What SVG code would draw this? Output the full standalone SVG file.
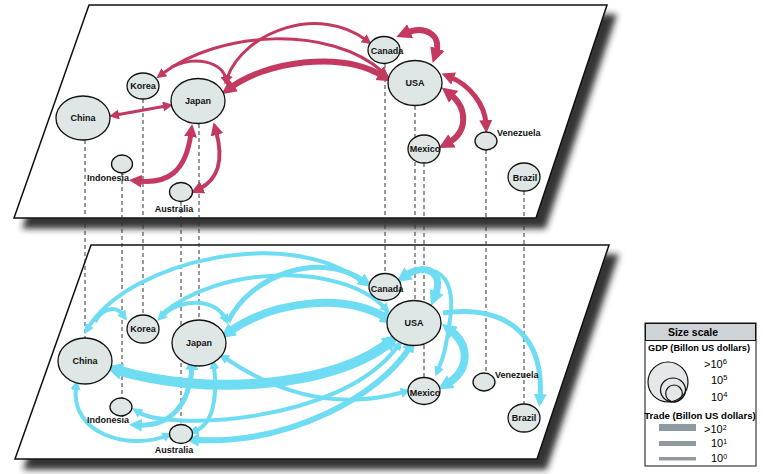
<svg xmlns="http://www.w3.org/2000/svg" width="763" height="474" viewBox="0 0 763 474">
<style>
.plane{fill:#fff;stroke:#111;stroke-width:1.5;filter:url(#sh)}
.dash{stroke:#333;stroke-width:1;stroke-dasharray:4 3;fill:none}
.n{fill:#DFE6E6;stroke:#111;stroke-width:1.3}
.lb{font-family:"Liberation Sans",Arial,sans-serif;font-weight:bold;font-size:9px;fill:#111;text-anchor:middle}
.r{fill:none;stroke:#C4395F}
.c{fill:none;stroke:#6EDCF2}
.lg{font-family:"Liberation Sans",Arial,sans-serif;fill:#000}
</style>
<defs>
<filter id="sh" x="-10%" y="-10%" width="130%" height="130%">
<feDropShadow dx="9" dy="10" stdDeviation="3" flood-color="#1a1a1a" flood-opacity="0.9"/>
</filter>
<marker id="rS" viewBox="0 0 10 10" refX="3" refY="5" markerWidth="10" markerHeight="10" markerUnits="userSpaceOnUse" orient="auto-start-reverse"><path d="M0,0 L10,5 L0,10 z" fill="#C4395F"/></marker>
<marker id="rM" viewBox="0 0 10 10" refX="3" refY="5" markerWidth="13" markerHeight="13" markerUnits="userSpaceOnUse" orient="auto-start-reverse"><path d="M0,0 L10,5 L0,10 z" fill="#C4395F"/></marker>
<marker id="rL" viewBox="0 0 10 10" refX="3" refY="5" markerWidth="15" markerHeight="17" markerUnits="userSpaceOnUse" orient="auto-start-reverse"><path d="M0,0 L10,5 L0,10 z" fill="#C4395F"/></marker>
<marker id="cS" viewBox="0 0 10 10" refX="3" refY="5" markerWidth="10" markerHeight="10" markerUnits="userSpaceOnUse" orient="auto-start-reverse"><path d="M0,0 L10,5 L0,10 z" fill="#6EDCF2"/></marker>
<marker id="cM" viewBox="0 0 10 10" refX="3" refY="5" markerWidth="13" markerHeight="13" markerUnits="userSpaceOnUse" orient="auto-start-reverse"><path d="M0,0 L10,5 L0,10 z" fill="#6EDCF2"/></marker>
<marker id="cL" viewBox="0 0 10 10" refX="3" refY="5" markerWidth="15" markerHeight="17" markerUnits="userSpaceOnUse" orient="auto-start-reverse"><path d="M0,0 L10,5 L0,10 z" fill="#6EDCF2"/></marker>
<marker id="cX" viewBox="0 0 10 10" refX="3" refY="5" markerWidth="17" markerHeight="21" markerUnits="userSpaceOnUse" orient="auto-start-reverse"><path d="M0,0 L10,5 L0,10 z" fill="#6EDCF2"/></marker>
</defs>

<g id="planes">
<polygon class="plane" points="89,5 607,5 536,218 14,218"/>
<polygon class="plane" points="91,245 609,245 537,459 15,459"/>
</g>

<g id="dropLines">
<line class="dash" x1="85" y1="140" x2="85" y2="338"/>
<line class="dash" x1="122" y1="173" x2="122" y2="398"/>
<line class="dash" x1="143" y1="99" x2="143" y2="315"/>
<line class="dash" x1="181" y1="202" x2="181" y2="424"/>
<line class="dash" x1="199" y1="124" x2="199" y2="320"/>
<line class="dash" x1="385" y1="64" x2="385" y2="273"/>
<line class="dash" x1="415" y1="106" x2="415" y2="300"/>
<line class="dash" x1="424" y1="163" x2="424" y2="378"/>
<line class="dash" x1="486" y1="150" x2="486" y2="373"/>
<line class="dash" x1="524" y1="191" x2="524" y2="404"/>
</g>

<g id="connectors">
<path class="r" stroke-width="3" d="M116,115 L166,106" marker-start="url(#rS)" marker-end="url(#rS)"/>
<path class="r" stroke-width="5" d="M191,133 C186,172 168,184 138,181" marker-start="url(#rM)" marker-end="url(#rM)"/>
<path class="r" stroke-width="4" d="M216,131 C224,160 218,180 199,189" marker-start="url(#rM)" marker-end="url(#rM)"/>
<path class="r" stroke-width="3" d="M172,67 C195,55 222,62 226,79" marker-end="url(#rS)"/>
<path class="r" stroke-width="3" d="M162,74 C220,30 330,25 383,72" marker-start="url(#rS)" marker-end="url(#rS)"/>
<path class="r" stroke-width="3" d="M227,78 C245,30 320,5 366,40" marker-start="url(#rS)" marker-end="url(#rS)"/>
<path class="r" stroke-width="6" d="M230,88 C265,62 340,50 383,76" marker-start="url(#rL)" marker-end="url(#rL)"/>
<path class="r" stroke-width="6" d="M406,33 C425,25 442,35 436,53" marker-start="url(#rL)" marker-end="url(#rL)"/>
<path class="r" stroke-width="6" d="M450,94 C468,108 468,132 448,143" marker-start="url(#rL)" marker-end="url(#rL)"/>
<path class="r" stroke-width="5" d="M450,77 C470,85 485,105 486,124" marker-start="url(#rM)" marker-end="url(#rM)"/>
<path class="c" stroke-width="4" d="M88,328 C130,260 290,225 362,282" marker-start="url(#cS)" marker-end="url(#cS)"/>
<path class="c" stroke-width="4" d="M95,322 C102,308 116,305 123,315" marker-end="url(#cS)"/>
<path class="c" stroke-width="4" d="M162,316 C180,298 215,298 225,318" marker-start="url(#cS)" marker-end="url(#cS)"/>
<path class="c" stroke-width="4" d="M162,314 C220,265 340,262 385,308" marker-end="url(#cS)"/>
<path class="c" stroke-width="5" d="M228,322 C250,275 320,250 364,281" marker-end="url(#cM)"/>
<path class="c" stroke-width="8" d="M229,332 C275,300 345,293 386,318" marker-start="url(#cL)" marker-end="url(#cL)"/>
<path class="c" stroke-width="7" d="M405,276 C425,262 445,272 435,296" marker-start="url(#cL)" marker-end="url(#cL)"/>
<path class="c" stroke-width="4" d="M408,272 C445,262 455,285 450,320 S442,360 438,370" marker-end="url(#cS)"/>
<path class="c" stroke-width="8" d="M450,330 C470,345 470,370 447,384" marker-start="url(#cL)" marker-end="url(#cL)"/>
<path class="c" stroke-width="5" d="M443,313 C500,305 545,330 540,398" marker-end="url(#cM)"/>
<path class="c" stroke-width="10" d="M117,370 C200,395 330,390 390,342" marker-start="url(#cX)" marker-end="url(#cX)"/>
<path class="c" stroke-width="4" d="M225,358 C280,395 340,410 404,392" marker-start="url(#cS)" marker-end="url(#cS)"/>
<path class="c" stroke-width="5" d="M192,366 C190,405 170,427 138,425" marker-start="url(#cM)" marker-end="url(#cM)"/>
<path class="c" stroke-width="4" d="M214,366 C218,400 212,425 195,431" marker-start="url(#cS)" marker-end="url(#cS)"/>
<path class="c" stroke-width="4" d="M76,387 C70,435 130,450 166,436" marker-start="url(#cS)" marker-end="url(#cS)"/>
<path class="c" stroke-width="4" d="M138,412 C165,430 340,425 398,346" marker-start="url(#cS)" marker-end="url(#cS)"/>
<path class="c" stroke-width="6" d="M195,440 C290,445 380,395 410,347" marker-start="url(#cM)" marker-end="url(#cM)"/>
</g>

<g id="t-china"><ellipse class="n" cx="83" cy="118" rx="27" ry="22"/><text class="lb" x="83" y="121">China</text></g>
<g id="t-korea"><ellipse class="n" cx="143" cy="86" rx="16" ry="13"/><text class="lb" x="143" y="89">Korea</text></g>
<g id="t-japan"><ellipse class="n" cx="198" cy="101" rx="27" ry="22.5"/><text class="lb" x="198" y="104">Japan</text></g>
<g id="t-indonesia"><ellipse class="n" cx="122" cy="164" rx="10.5" ry="9"/><text class="lb" x="108" y="181">Indonesia</text></g>
<g id="t-australia"><ellipse class="n" cx="181" cy="192" rx="11.5" ry="9.5"/><text class="lb" x="174" y="212">Australia</text></g>
<g id="t-canada"><ellipse class="n" cx="384" cy="50" rx="16" ry="13.5"/><text class="lb" x="387" y="54">Canada</text></g>
<g id="t-usa"><ellipse class="n" cx="415" cy="83" rx="27" ry="22.5"/><text class="lb" x="415" y="86">USA</text></g>
<g id="t-mexico"><ellipse class="n" cx="424" cy="149" rx="16" ry="14"/><text class="lb" x="425" y="152">Mexico</text></g>
<g id="t-venezuela"><ellipse class="n" cx="486" cy="141" rx="11" ry="9"/><text class="lb" x="497" y="136" style="text-anchor:start">Venezuela</text></g>
<g id="t-brazil"><ellipse class="n" cx="524" cy="177" rx="16" ry="14"/><text class="lb" x="525" y="181">Brazil</text></g>

<g id="b-china"><ellipse class="n" cx="85" cy="361" rx="27" ry="23"/><text class="lb" x="85" y="364">China</text></g>
<g id="b-korea"><ellipse class="n" cx="143" cy="329" rx="16" ry="14"/><text class="lb" x="143" y="332">Korea</text></g>
<g id="b-japan"><ellipse class="n" cx="199" cy="343" rx="27" ry="23"/><text class="lb" x="199" y="346">Japan</text></g>
<g id="b-indonesia"><ellipse class="n" cx="121" cy="407" rx="11" ry="9"/><text class="lb" x="108" y="423">Indonesia</text></g>
<g id="b-australia"><ellipse class="n" cx="181" cy="434" rx="11.5" ry="9.5"/><text class="lb" x="174" y="453">Australia</text></g>
<g id="b-canada"><ellipse class="n" cx="385" cy="287" rx="16" ry="13.5"/><text class="lb" x="387" y="292">Canada</text></g>
<g id="b-usa"><ellipse class="n" cx="414" cy="323" rx="27" ry="22.5"/><text class="lb" x="414" y="326">USA</text></g>
<g id="b-mexico"><ellipse class="n" cx="424" cy="391" rx="16" ry="13.5"/><text class="lb" x="425" y="396">Mexico</text></g>
<g id="b-venezuela"><ellipse class="n" cx="484" cy="382" rx="11" ry="9"/><text class="lb" x="495" y="378" style="text-anchor:start">Venezuela</text></g>
<g id="b-brazil"><ellipse class="n" cx="524" cy="418" rx="16" ry="14"/><text class="lb" x="524" y="421">Brazil</text></g>

<g id="legend">
<rect x="645" y="323" width="111" height="143" fill="#fff" stroke="#111" stroke-width="1"/>
<rect x="645.5" y="323.5" width="110" height="17" fill="#CDD3D6" stroke="#111" stroke-width="1"/>
<text class="lg" x="693" y="336" font-size="10.5" font-weight="bold" text-anchor="middle">Size scale</text>
<text class="lg" x="699" y="351" font-size="9.2" font-weight="bold" text-anchor="middle">GDP (Billon US dollars)</text>
<ellipse cx="668" cy="382" rx="20" ry="20" fill="#E4E8E8" stroke="#111" stroke-width="1.2"/>
<ellipse cx="673" cy="390" rx="12.5" ry="12" fill="none" stroke="#111" stroke-width="1.2"/>
<ellipse cx="674" cy="393.5" rx="8.3" ry="8.5" fill="none" stroke="#111" stroke-width="1.2"/>
<text class="lg" x="704" y="368" font-size="11">&gt;10<tspan dy="-4" font-size="7.5">6</tspan></text>
<text class="lg" x="711" y="384" font-size="11">10<tspan dy="-4" font-size="7.5">5</tspan></text>
<text class="lg" x="711" y="401" font-size="11">10<tspan dy="-4" font-size="7.5">4</tspan></text>
<text class="lg" x="700" y="419" font-size="9.6" font-weight="bold" text-anchor="middle">Trade (Billon US dollars)</text>
<rect x="659" y="424" width="37" height="7" fill="#8E9AA0"/>
<rect x="659" y="441" width="37" height="5" fill="#8E9AA0"/>
<rect x="659" y="457" width="37" height="3.5" fill="#8E9AA0"/>
<text class="lg" x="704" y="433" font-size="11">&gt;10<tspan dy="-3.5" font-size="7">2</tspan></text>
<text class="lg" x="711" y="447" font-size="11">10<tspan dy="-3.5" font-size="7">1</tspan></text>
<text class="lg" x="711" y="462" font-size="11">10<tspan dy="-3.5" font-size="7">0</tspan></text>
</g>
</svg>
